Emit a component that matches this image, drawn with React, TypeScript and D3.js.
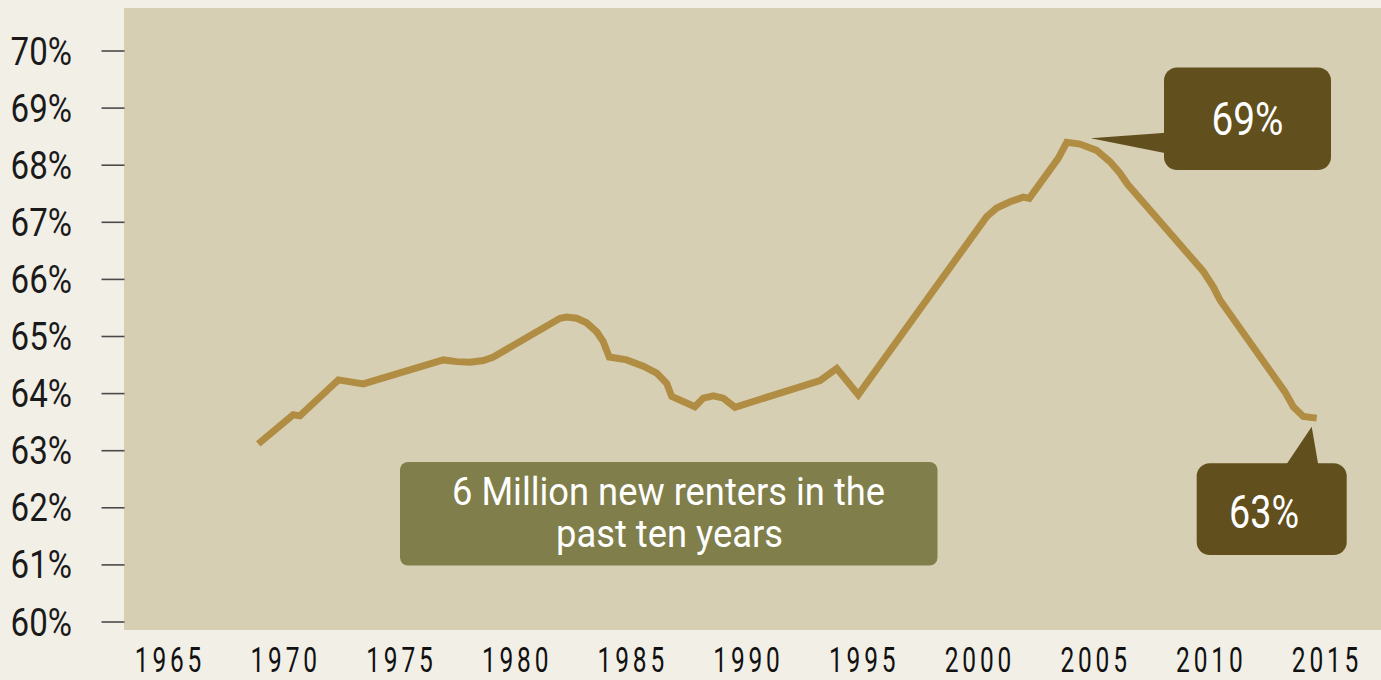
import React from "react";
import * as d3 from "d3";

// Homeownership rate
const years = [
  1968.9, 1970.41, 1970.7, 1972.36, 1973.44, 1976.9, 1977.48, 1978.05, 1978.63, 1979.06,
  1981.94, 1982.23, 1982.66, 1983.09, 1983.53, 1983.81, 1984.0, 1984.07, 1984.82, 1985.54,
  1986.12, 1986.55, 1986.77, 1987.77, 1988.13, 1988.57, 1989.0, 1989.5, 1993.18, 1993.9,
  1994.83, 2000.38, 2000.81, 2001.39, 2001.96, 2002.22, 2003.47, 2003.84, 2004.41, 2005.13,
  2005.71, 2006.14, 2006.46, 2009.74, 2010.17, 2010.46, 2013.27, 2013.63, 2014.06, 2014.64,
];
const rates = [
  63.12, 63.63, 63.61, 64.24, 64.17, 64.59, 64.56, 64.55, 64.58, 64.64,
  65.32, 65.34, 65.32, 65.24, 65.08, 64.91, 64.71, 64.64, 64.59, 64.48,
  64.36, 64.18, 63.95, 63.77, 63.92, 63.96, 63.92, 63.76, 64.23, 64.44,
  63.98, 67.1, 67.25, 67.36, 67.44, 67.42, 68.12, 68.4, 68.37, 68.26,
  68.06, 67.86, 67.67, 66.14, 65.87, 65.64, 64.03, 63.77, 63.6, 63.57,
];
const yTicks = [60, 61, 62, 63, 64, 65, 66, 67, 68, 69, 70];
const xTicks = [1965, 1970, 1975, 1980, 1985, 1990, 1995, 2000, 2005, 2010, 2015];
const peakLabel = "69%";
const endLabel = "63%";
const noteLines = ["6 Million new renters in the", "past ten years"];

const W = 1381;
const H = 680;
const FONT = "Roboto, 'Noto Sans', sans-serif";

export default function App() {
  const x = d3.scaleLinear().domain([1965, 2015]).range([168, 1325]);
  const y = d3.scaleLinear().domain([60, 70]).range([622, 51]);
  const pts = years.map((yr, i) => [yr, rates[i]] as [number, number]);
  const line = d3
    .line<[number, number]>()
    .x((d) => x(d[0]))
    .y((d) => y(d[1]))
    .curve(d3.curveLinear);

  const pageBg = "#F2EFE7";
  const plotBg = "#D7CFB3";
  const gold = "#B08D42";
  const dark = "#614F1E";
  const olive = "#807E4A";

  return (
    <svg
      width={W}
      height={H}
      style={{ position: "absolute", left: 0, top: 0, display: "block" }}
      fontFamily={FONT}
    >
      <rect x={0} y={0} width={W} height={H} fill={pageBg} />
      <rect x={124} y={8} width={W - 124} height={622} fill={plotBg} />

      {/* y ticks and labels */}
      {yTicks.map((t) => (
        <g key={t}>
          <line x1={101.5} x2={124.5} y1={y(t)} y2={y(t)} stroke="#4a4a4a" strokeWidth={1.6} />
          <text
            transform={`translate(72,${y(t) + 13.5}) scale(0.87,1)`}
            textAnchor="end"
            fontSize={38}
            fill="#1a1a1a"
          >
            {t}%
          </text>
        </g>
      ))}

      {/* x labels */}
      {xTicks.map((t) => (
        <text
          key={t}
          transform={`translate(${x(t) + 2},672) scale(0.7,1)`}
          textAnchor="middle"
          fontSize={35}
          letterSpacing={5.5}
          fill="#111"
        >
          {t}
        </text>
      ))}

      {/* data line */}
      <path
        d={line(pts) || ""}
        fill="none"
        stroke={gold}
        strokeWidth={7}
        strokeLinecap="butt"
        strokeLinejoin="miter"
      />

      {/* 69% callout */}
      <path d="M1166,132.7 L1090.7,138.3 L1166,153.3 Z" fill={dark} />
      <rect x={1164} y={67.5} width={167} height={102.5} rx={13} fill={dark} />
      <text
        x={1247.5}
        y={135}
        textAnchor="middle"
        fontSize={46}
        textLength={72}
        lengthAdjust="spacingAndGlyphs"
        fill="#fff"
      >
        {peakLabel}
      </text>

      {/* 63% callout */}
      <path d="M1286,465 L1311.7,426.7 L1318.3,465 Z" fill={dark} />
      <rect x={1196.7} y={463.3} width={150} height={91.7} rx={13} fill={dark} />
      <text
        x={1264}
        y={528}
        textAnchor="middle"
        fontSize={46}
        textLength={70}
        lengthAdjust="spacingAndGlyphs"
        fill="#fff"
      >
        {endLabel}
      </text>

      {/* note box */}
      <rect x={400} y={462} width={537.5} height={103.5} rx={8} fill={olive} />
      <text
        x={668.5}
        y={505}
        textAnchor="middle"
        fontSize={39}
        textLength={433}
        lengthAdjust="spacingAndGlyphs"
        fill="#fff"
      >
        {noteLines[0]}
      </text>
      <text
        x={669.5}
        y={547}
        textAnchor="middle"
        fontSize={39}
        textLength={227}
        lengthAdjust="spacingAndGlyphs"
        fill="#fff"
      >
        {noteLines[1]}
      </text>
    </svg>
  );
}
